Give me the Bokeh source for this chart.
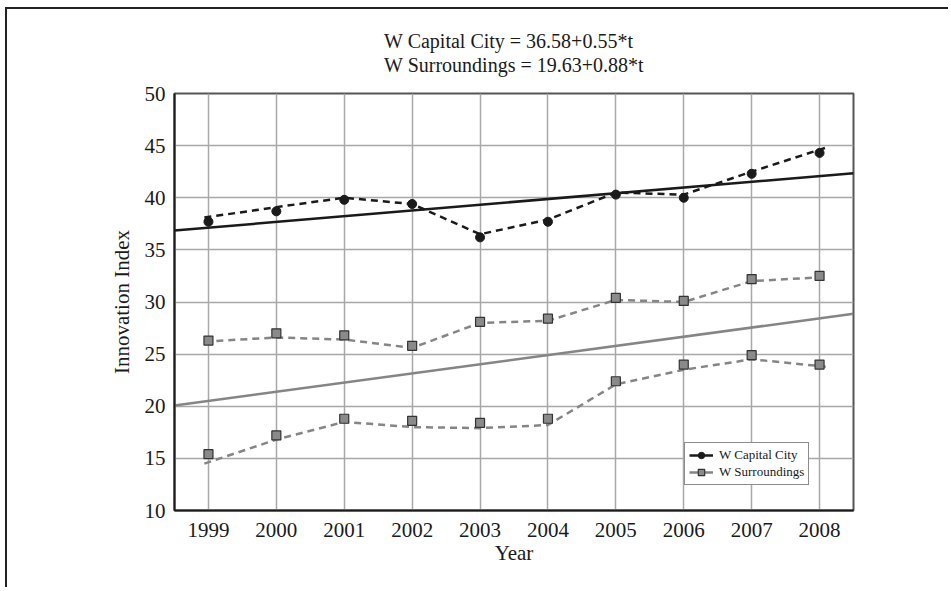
from bokeh.plotting import figure
from bokeh.models import Range1d, FixedTicker, Title, Legend, LegendItem
from bokeh.embed import file_html
from bokeh.resources import INLINE

years = [1999, 2000, 2001, 2002, 2003, 2004, 2005, 2006, 2007, 2008]

# observed points
capital = [37.7, 38.7, 39.8, 39.4, 36.2, 37.7, 40.3, 40.0, 42.3, 44.3]
surr_high = [26.3, 27.0, 26.8, 25.8, 28.1, 28.4, 30.4, 30.1, 32.2, 32.5]
surr_low = [15.4, 17.2, 18.8, 18.6, 18.4, 18.8, 22.4, 24.0, 24.9, 24.0]

# smoothed (dashed) curves
smooth_years = [1998.94, 2000, 2001, 2002, 2003, 2004, 2005, 2006, 2007, 2008.09]
capital_smooth = [38.1, 39.1, 40.0, 39.4, 36.5, 37.9, 40.5, 40.3, 42.5, 44.8]
surr_high_smooth = [26.2, 26.6, 26.4, 25.6, 28.0, 28.2, 30.2, 30.0, 32.0, 32.4]
surr_low_smooth = [14.5, 16.8, 18.5, 18.0, 17.9, 18.2, 22.1, 23.5, 24.5, 23.8]

# trend equations: value = a + b*t, t = year - 1998
cap_a, cap_b = 36.58, 0.55
sur_a, sur_b = 19.63, 0.88
trend_x = [1998.5, 2008.5]

title_lines = ["W Capital City = 36.58+0.55*t", "W Surroundings = 19.63+0.88*t"]

FONT = "Liberation Serif"
BLACK = "#1a1a1a"
GRAY = "#858585"

p = figure(width=943, height=580, output_backend="svg", toolbar_location=None,
           x_range=Range1d(1998.5, 2008.5), y_range=Range1d(10, 50),
           min_border_left=167, min_border_top=84, min_border_right=97,
           min_border_bottom=79, title=None)
p.background_fill_color = "white"
p.border_fill_color = "white"
p.outline_line_color = "#555555"
p.outline_line_width = 2

p.add_layout(Title(text="\n".join(title_lines), align="center", text_font=FONT,
                   text_font_size="20px", text_font_style="normal", text_color=BLACK,
                   text_line_height=1.1, standoff=34), "above")

for ax in (p.xaxis[0], p.yaxis[0]):
    ax.axis_line_color = BLACK
    ax.axis_line_width = 2
    ax.major_tick_line_color = None
    ax.minor_tick_line_color = None
    ax.major_tick_out = 0
    ax.major_tick_in = 0
    ax.minor_tick_out = 0
    ax.minor_tick_in = 0
    ax.major_label_text_font = FONT
    ax.major_label_text_font_size = "21px"
    ax.major_label_text_color = BLACK
    ax.axis_label_text_font = FONT
    ax.axis_label_text_font_size = "21px"
    ax.axis_label_text_font_style = "normal"
    ax.axis_label_text_color = BLACK

p.xaxis.ticker = FixedTicker(ticks=years)
p.yaxis.ticker = FixedTicker(ticks=[10, 15, 20, 25, 30, 35, 40, 45, 50])
p.xaxis.axis_label = "Year"
p.yaxis.axis_label = "Innovation Index"
p.xaxis.major_label_standoff = 12
p.yaxis.major_label_standoff = 9
p.xaxis.axis_label_standoff = 1
p.yaxis.axis_label_standoff = 8

p.xgrid.grid_line_color = "#a8a8a8"
p.ygrid.grid_line_color = "#a8a8a8"
p.xgrid.grid_line_width = 1.5
p.ygrid.grid_line_width = 1.5

cap_trend_y = [cap_a + cap_b * (x - 1998) for x in trend_x]
sur_trend_y = [sur_a + sur_b * (x - 1998) for x in trend_x]

r_cap_trend = p.line(trend_x, cap_trend_y, line_color=BLACK, line_width=2.5)
r_sur_trend = p.line(trend_x, sur_trend_y, line_color=GRAY, line_width=2.5)

p.line(smooth_years, capital_smooth, line_color=BLACK, line_width=2.5, line_dash="7 5")
p.line(smooth_years, surr_high_smooth, line_color=GRAY, line_width=2.5, line_dash="7 5")
p.line(smooth_years, surr_low_smooth, line_color=GRAY, line_width=2.5, line_dash="7 5")

r_cap_pts = p.scatter(years, capital, marker="circle", size=9, fill_color=BLACK, line_color=BLACK)
r_sh_pts = p.scatter(years, surr_high, marker="square", size=9, fill_color="#8a8a8a",
                     line_color="#333333", line_width=1.2)
p.scatter(years, surr_low, marker="square", size=9, fill_color="#8a8a8a",
          line_color="#333333", line_width=1.2)

legend = Legend(items=[
    LegendItem(label="W Capital City", renderers=[r_cap_trend, r_cap_pts]),
    LegendItem(label="W Surroundings", renderers=[r_sur_trend, r_sh_pts]),
], location=(510, 25))
legend.label_text_font = FONT
legend.label_text_font_size = "13px"
legend.label_text_color = BLACK
legend.glyph_width = 24
legend.glyph_height = 16
legend.label_height = 16
legend.label_standoff = 6
legend.padding = 4
legend.spacing = 1
legend.margin = 0
legend.border_line_color = BLACK
legend.border_line_width = 1.5
legend.background_fill_color = "white"
legend.background_fill_alpha = 1
p.add_layout(legend, "center")

p.styles = {"border-left": "2px solid #222222", "border-top": "2px solid #222222",
            "margin-left": "5px", "margin-top": "7px"}

open("out.html", "w").write(file_html(p, INLINE))
